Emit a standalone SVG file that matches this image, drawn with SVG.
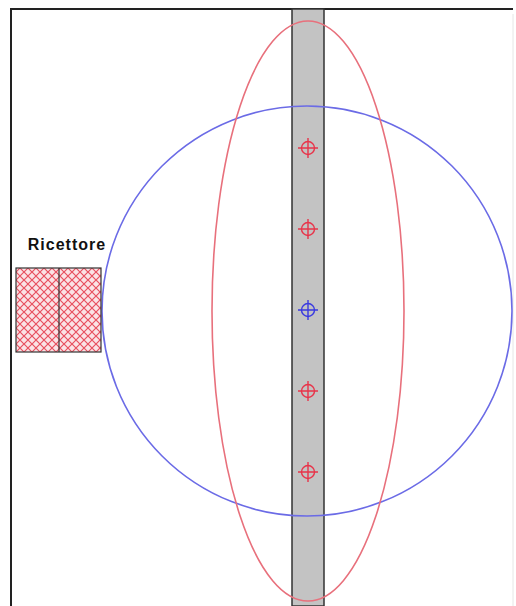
<svg xmlns="http://www.w3.org/2000/svg" width="516" height="606" viewBox="0 0 516 606">
<style>
.frame{fill:none;stroke:#222;stroke-width:2}
.tgt{fill:none;stroke-width:1.4}
.red{stroke:#e8344a}
.blue{stroke:#3a3ae0}
</style>
<defs>
<pattern id="hatch" width="8" height="8" patternUnits="userSpaceOnUse">
<rect width="8" height="8" fill="#fbe3e6"/>
<path d="M0,0 L8,8 M8,0 L0,8" stroke="#e8505f" stroke-width="1.2"/>
</pattern>
<g id="mk"><circle r="6.5"/><path d="M-10,0 H10 M0,-10 V10"/></g>
</defs>
<rect width="516" height="606" fill="#fff"/>
<g id="frame">
<path class="frame" d="M11,606 V9 H513"/>
<line x1="513" y1="14" x2="513" y2="606" stroke="#e6e6e6" stroke-width="1"/>
</g>
<g id="bar"><rect x="292" y="9" width="32" height="597" fill="#c3c3c3" stroke="#333" stroke-width="1.5"/></g>
<g id="blue-circle"><circle cx="307" cy="311" r="205" fill="none" stroke="#6b6be6" stroke-width="1.6"/></g>
<g id="red-ellipse"><ellipse cx="308" cy="311" rx="96" ry="290" fill="none" stroke="#e8707c" stroke-width="1.6"/></g>
<g id="receiver">
<rect x="16" y="268" width="85" height="84" fill="url(#hatch)" stroke="#333" stroke-width="1.2"/>
<line x1="59" y1="268" x2="59" y2="352" stroke="#333" stroke-width="1.2"/>
<text x="67" y="250" font-family="Liberation Sans, Arial, sans-serif" font-size="16" font-weight="bold" letter-spacing="1" text-anchor="middle" fill="#111">Ricettore</text>
</g>
<g id="markers" class="tgt">
<use href="#mk" x="308" y="148" class="red"/>
<use href="#mk" x="308" y="229" class="red"/>
<use href="#mk" x="308" y="310" class="blue"/>
<use href="#mk" x="308" y="391" class="red"/>
<use href="#mk" x="308" y="472" class="red"/>
</g>
</svg>
